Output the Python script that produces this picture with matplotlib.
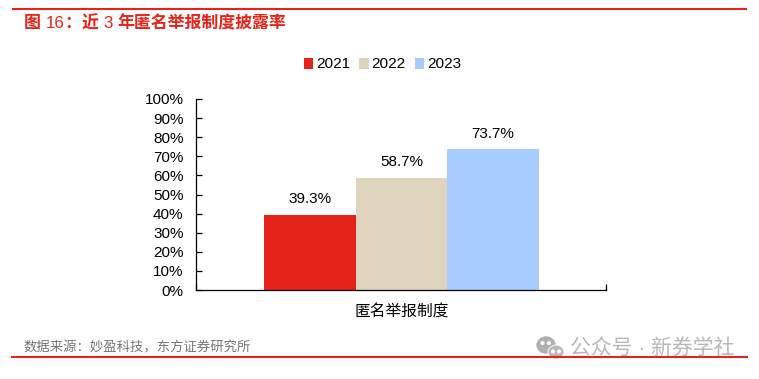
import matplotlib
matplotlib.use("Agg")
import matplotlib.pyplot as plt
from matplotlib.lines import Line2D
from matplotlib.patches import Ellipse
import numpy as np

plt.rcParams['font.family'] = ['Liberation Sans', 'Noto Sans CJK SC', 'DejaVu Sans']

years = ["2021", "2022", "2023"]
values = [39.3, 58.7, 73.7]
colors = ["#E5231A", "#DFD4BC", "#A6CBFF"]
category = "匿名举报制度"
yticks = list(range(0, 101, 10))

# title pieces: the digits are not bold in the original
titleParts = [("图", 24, "bold"), ("16", 46, "normal"), ("：", 64, "bold"), ("近", 82, "bold"),
              ("3", 103, "normal"), ("年匿名举报制度披露率", 117.5, "bold")]
source = "数据来源：妙盈科技，东方证券研究所"
watermark = "公众号 · 新券学社"

W, H = 759, 379
RED = "#E5231A"


def fx(px):
    return px / W


def fy(py):
    return 1 - py / H


fig = plt.figure(figsize=(W / 100, H / 100), dpi=100)
ax = fig.add_axes([fx(196), fy(290), fx(606 - 196), (290 - 99) / H])

# bars sit next to each other, centred on the single category
barWidth = 91.5 / 410
for i, (year, val, col) in enumerate(zip(years, values, colors)):
    x = (i - 1) * barWidth + 0.001
    ax.bar(x, val, width=barWidth, color=col, label=year, zorder=2)
    ax.text(x, val + 4.5, "%.1f%%" % val, ha="center", va="bottom", fontsize=11, color="black")

ax.set_xlim(-0.5, 0.5)
ax.set_ylim(0, 100)
ax.set_yticks(yticks)
ax.set_yticklabels(["%d%%" % t for t in yticks], fontsize=11)
ax.tick_params(axis="y", direction="in", length=4, width=0.9, pad=9)
ax.set_xticks([-0.5, 0.5])
ax.set_xticklabels(["", ""])
ax.tick_params(axis="x", direction="in", length=4, width=0.9)
ax.spines["top"].set_visible(False)
ax.spines["right"].set_visible(False)
for s in ("left", "bottom"):
    ax.spines[s].set_linewidth(0.9)

fig.text(fx(401.5), fy(312), category, ha="center", va="center", fontsize=11.3, color="black")

leg = fig.legend(loc="center", bbox_to_anchor=(fx(382.5), fy(64.5)), ncol=3, frameon=False, fontsize=11.1,
                 handlelength=0.6, handleheight=0.7, handletextpad=0.2, columnspacing=0.6,
                 borderpad=0, borderaxespad=0)

# header and footer rules
fig.add_artist(Line2D([fx(13), fx(746)], [fy(8.8), fy(8.8)], color=RED, lw=1.5))
fig.add_artist(Line2D([fx(12), fx(747)], [fy(357), fy(357)], color=RED, lw=1.5))

for txt, px, weight in titleParts:
    fig.text(fx(px), fy(23.5), txt, ha="left", va="center", fontsize=12.2, fontweight=weight, color=RED)
fig.text(fx(24), fy(348), source, ha="left", va="center", fontsize=9.6, color="#757575")

# watermark: wechat logo plus text
fig.text(fx(570), fy(348), watermark, ha="left", va="center", fontsize=15, color="#B4B4B4", alpha=0.95)
wm = "#B0B0B0"
fig.add_artist(Ellipse((fx(546), fy(345)), 18 / W, 16 / H, color=wm, transform=fig.transFigure))
fig.add_artist(Ellipse((fx(556), fy(352)), 16 / W, 14 / H, facecolor="#BABABA", edgecolor="white", lw=0.6, transform=fig.transFigure))
for px, py in [(542.5, 343), (549, 343), (553, 351.5), (559, 351.5)]:
    fig.add_artist(Ellipse((fx(px), fy(py)), 2.6 / W, 2.6 / H, color="white", transform=fig.transFigure))

fig.savefig("out.png", dpi=100)
